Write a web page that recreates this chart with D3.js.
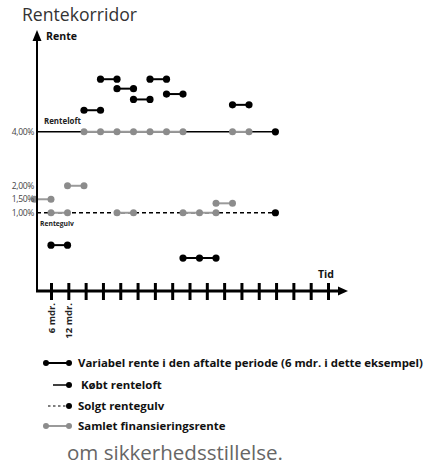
<!DOCTYPE html>
<html><head><meta charset="utf-8">
<script src="https://cdn.jsdelivr.net/npm/d3@7"></script>
<style>
body{margin:0;background:#fff;}
svg{display:block;}
text{font-family:"Open Sans","Liberation Sans",sans-serif;}
</style></head>
<body>
<svg id="chart" width="435" height="466"></svg>
<script>
// ---- data ----
const chartTitle = "Rentekorridor";
const yAxisTitle = "Rente";
const xAxisTitle = "Tid";
const footnote = "om sikkerhedsstillelse.";
const yTickValues = [4, 2, 1.5, 1];
const yTickLabels = ["4,00%", "2,00%", "1,50%", "1,00%"];
const xTickValues = [1, 2, 3, 4, 5, 6, 7, 8, 9, 10, 11, 12, 13, 14, 15, 16, 17];
const xTickLabels = ["6 mdr.", "12 mdr."];
// variable rate per period (start period, end period, rate %)
const varStart = [1, 3, 4, 5, 6, 7, 8, 9, 12];
const varEnd   = [2, 4, 5, 6, 7, 8, 9, 11, 13];
const varRate  = [-0.2, 4.8, 5.95, 5.6, 5.2, 5.95, 5.4, -0.68, 5.0];
// total financing rate
const finStart = [0, 1, 2, 3, 5, 9, 11, 12];
const finEnd   = [1, 2, 3, 9, 6, 11, 12, 13];
const finRate  = [1.5, 1, 2, 4, 1, 1, 1.35, 4];
const capRate = 4, floorRate = 1, corridorEnd = 14.6;
const capLabel = "Renteloft", floorLabel = "Rentegulv";
const legendLabels = ["Variabel rente i den aftalte periode (6 mdr. i dette eksempel)", " Købt renteloft", "Solgt rentegulv", "Samlet finansieringsrente"];

// ---- drawing ----
const svg = d3.select("#chart");
const axisX = 37, axisY = 291;
const xP = d3.scaleLinear().domain([0, 13]).range([34.5, 249]);   // periods
const xT = d3.scaleLinear().domain([0, 17]).range([33.7, 328]);   // time ticks
const y = d3.scaleLinear().domain([-1.9, 7.7]).range([291, 32]);
const black = "#000", gray = "#8c8c8c", grayLine = "#9a9a9a";

function fitWidth(sel, w) {
  const fs = +sel.attr("font-size");
  const cur = sel.node().getComputedTextLength();
  if (cur > 0) sel.attr("font-size", (fs * w / cur).toFixed(2));
  return sel;
}

fitWidth(svg.append("text").attr("x", 22).attr("y", 21).attr("font-size", 15.5).attr("fill", "#333").text(chartTitle), 115);

// cap & floor
svg.append("line").attr("x1", axisX).attr("x2", xP(corridorEnd)).attr("y1", y(capRate)).attr("y2", y(capRate))
  .attr("stroke", black).attr("stroke-width", 1.5);
svg.append("circle").attr("cx", xP(corridorEnd)).attr("cy", y(capRate)).attr("r", 3.6).attr("fill", black);
svg.append("line").attr("x1", axisX).attr("x2", xP(corridorEnd)).attr("y1", y(floorRate)).attr("y2", y(floorRate))
  .attr("stroke", black).attr("stroke-width", 1.5).attr("stroke-dasharray", "4,3");
svg.append("circle").attr("cx", xP(corridorEnd)).attr("cy", y(floorRate)).attr("r", 3.6).attr("fill", black);

fitWidth(svg.append("text").attr("x", 44).attr("y", y(capRate) - 8).attr("font-size", 7).attr("font-weight", 700).attr("fill", "#222").text(capLabel), 37);
fitWidth(svg.append("text").attr("x", 40).attr("y", y(floorRate) + 13).attr("font-size", 7).attr("font-weight", 700).attr("fill", "#222").text(floorLabel), 34);

function drawSegments(starts, ends, rates, color, lineColor, r) {
  const g = svg.append("g");
  starts.forEach((s, i) => {
    const e = ends[i], yy = y(rates[i]);
    g.append("line").attr("x1", xP(s)).attr("x2", xP(e)).attr("y1", yy).attr("y2", yy)
      .attr("stroke", lineColor).attr("stroke-width", 2);
    d3.range(s, e + 1).forEach(k => {
      g.append("circle").attr("cx", xP(k)).attr("cy", yy).attr("r", r).attr("fill", color);
    });
  });
}
drawSegments(finStart, finEnd, finRate, gray, grayLine, 3.5);
drawSegments(varStart, varEnd, varRate, black, black, 3.6);

// y tick labels
svg.append("g").selectAll("text").data(yTickValues).join("text")
  .attr("x", 34).attr("y", d => y(d)).attr("dy", "0.35em").attr("text-anchor", "end")
  .attr("font-size", 8.5).attr("letter-spacing", -0.3).attr("fill", "#444").text((d, i) => yTickLabels[i]);

// y axis with arrow
svg.append("line").attr("x1", axisX).attr("x2", axisX).attr("y1", axisY + 1).attr("y2", 38)
  .attr("stroke", black).attr("stroke-width", 2);
svg.append("path").attr("d", `M${axisX},30 L${axisX - 4.5},41 L${axisX + 4.5},41 Z`).attr("fill", black);
fitWidth(svg.append("text").attr("x", 46).attr("y", 40).attr("font-size", 8.5).attr("font-weight", 700).attr("fill", "#111").text(yAxisTitle), 31);

// x axis
svg.append("line").attr("x1", axisX - 1).attr("x2", 340).attr("y1", axisY).attr("y2", axisY)
  .attr("stroke", black).attr("stroke-width", 3);
svg.append("path").attr("d", `M348,${axisY} L338,${axisY - 4.5} L338,${axisY + 4.5} Z`).attr("fill", black);
const xAxis = d3.axisBottom(xT).tickValues(xTickValues).tickSize(8)
  .tickFormat(d => xTickLabels[d - 1] || "");
const gx = svg.append("g").attr("transform", `translate(0,${axisY})`).call(xAxis);
gx.select(".domain").remove();
gx.selectAll(".tick line").attr("y1", -8).attr("y2", 9).attr("stroke", black).attr("stroke-width", 3);
gx.selectAll(".tick text").attr("transform", "rotate(-90)").attr("x", -12).attr("y", 0).attr("dy", "0.35em")
  .attr("text-anchor", "end").attr("font-size", 9.5).attr("font-weight", 700).attr("fill", "#222")
  .attr("font-family", "\"Open Sans\",sans-serif");
fitWidth(svg.append("text").attr("x", 318).attr("y", 278).attr("font-size", 8.5).attr("font-weight", 700).attr("fill", "#111").text(xAxisTitle), 16);

// legend
const lg = svg.append("g");
const rows = [363, 385, 406, 426];
// row 1
lg.append("line").attr("x1", 46).attr("x2", 69).attr("y1", rows[0]).attr("y2", rows[0]).attr("stroke", black).attr("stroke-width", 2);
lg.append("circle").attr("cx", 46).attr("cy", rows[0]).attr("r", 3).attr("fill", black);
lg.append("circle").attr("cx", 69).attr("cy", rows[0]).attr("r", 3).attr("fill", black);
// row 2
lg.append("line").attr("x1", 53).attr("x2", 69).attr("y1", rows[1]).attr("y2", rows[1]).attr("stroke", black).attr("stroke-width", 1.5);
lg.append("circle").attr("cx", 69).attr("cy", rows[1]).attr("r", 3).attr("fill", black);
// row 3
lg.append("line").attr("x1", 48).attr("x2", 69).attr("y1", rows[2]).attr("y2", rows[2]).attr("stroke", black).attr("stroke-width", 1.2).attr("stroke-dasharray", "2.5,2.5");
lg.append("circle").attr("cx", 69).attr("cy", rows[2]).attr("r", 3).attr("fill", black);
// row 4
lg.append("line").attr("x1", 46).attr("x2", 69).attr("y1", rows[3]).attr("y2", rows[3]).attr("stroke", grayLine).attr("stroke-width", 2);
lg.append("circle").attr("cx", 46).attr("cy", rows[3]).attr("r", 3).attr("fill", gray);
lg.append("circle").attr("cx", 69).attr("cy", rows[3]).attr("r", 3).attr("fill", gray);
const lt = lg.selectAll("text.lt").data(legendLabels).join("text").attr("class", "lt")
  .attr("x", 78).attr("y", (d, i) => rows[i]).attr("dy", "0.35em")
  .attr("font-size", 9).attr("font-weight", 700).attr("fill", "#111")
  .attr("xml:space", "preserve").style("white-space", "pre").text(d => d);
// match first legend row width, apply same size to all rows
const firstW = lt.nodes()[0].getComputedTextLength();
lt.attr("font-size", (9 * 345 / firstW).toFixed(2));

fitWidth(svg.append("text").attr("x", 67).attr("y", 460).attr("font-size", 17.5).attr("fill", "#666").text(footnote), 216);
</script>
</body></html>
